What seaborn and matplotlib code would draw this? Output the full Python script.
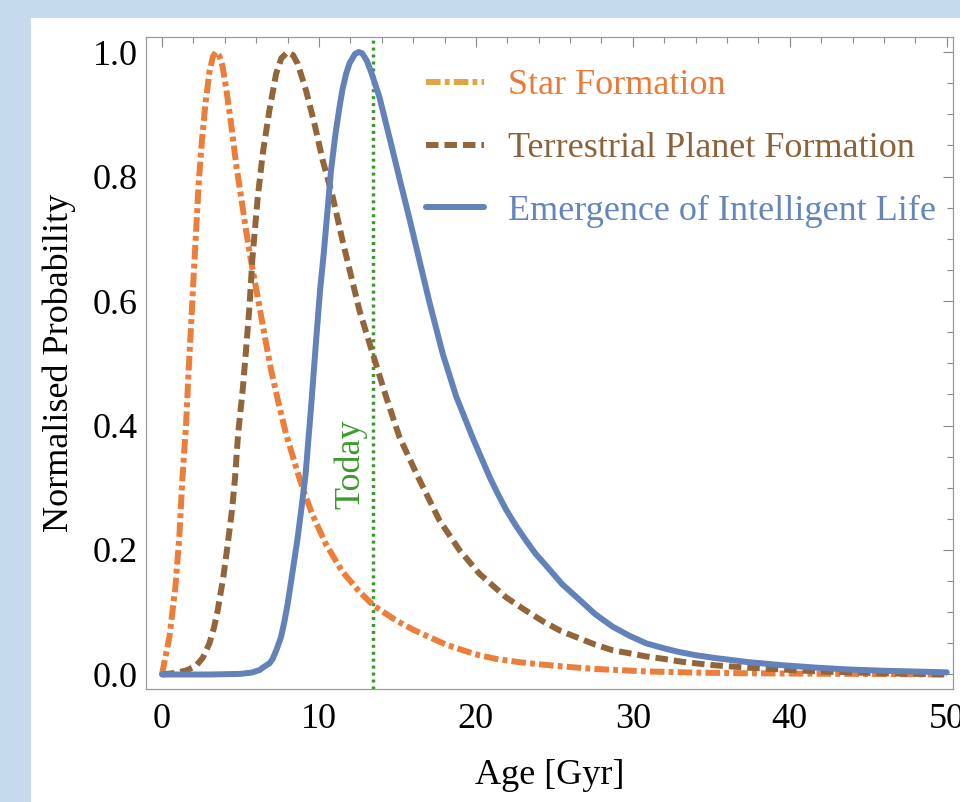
import numpy as np
import pandas as pd
import matplotlib
matplotlib.use("Agg")
import matplotlib.pyplot as plt
from matplotlib.patches import Rectangle
from matplotlib.ticker import MultipleLocator
import seaborn as sns

# values
star_age = [0, 0.47, 0.85, 1.1, 1.3, 1.53, 1.7, 1.85, 2.08, 2.34, 2.55, 2.76, 3.02, 3.25, 3.45,
            3.65, 3.85, 4.08, 4.4, 4.72, 5.04, 5.35, 5.65, 6.1, 6.52, 6.95, 7.48, 7.9, 8.54,
            8.97, 9.6, 10.45, 11.5, 12.58, 13.47, 14.9, 16.0, 17.04, 18.1, 19.16, 20.2, 21.3,
            22.7, 24.2, 26.0, 27.5, 30.8, 34.0, 37.2, 43.5, 50]
star_prob = [0, 0.06, 0.14, 0.22, 0.315, 0.40, 0.49, 0.56, 0.67, 0.79, 0.86, 0.915, 0.968, 0.993, 1.0,
             0.994, 0.978, 0.943, 0.885, 0.82, 0.767, 0.714, 0.668, 0.606, 0.547, 0.489, 0.43, 0.387, 0.333,
             0.298, 0.256, 0.209, 0.165, 0.133, 0.111, 0.087, 0.072, 0.06, 0.048, 0.039, 0.031, 0.025,
             0.02, 0.016, 0.012, 0.009, 0.005, 0.003, 0.002, 0.001, 0.0]

planet_age = [0, 1.0, 1.6, 2.17, 2.6, 3.02, 3.3, 3.55, 3.91, 4.19, 4.46, 4.65, 4.85, 5.14, 5.35, 5.57,
              5.76, 6.1, 6.42, 6.84, 7.27, 7.6, 8.01, 8.35, 8.65, 9.18, 9.71, 10.24, 10.88, 11.52,
              12.58, 13.43, 14.28, 15.12, 16.3, 17.67, 18.95, 20.22, 21.92, 23.1, 24.3, 25.4, 26.6,
              27.6, 28.7, 29.8, 30.85, 32.0, 32.97, 34.0, 35.1, 37.3, 39.5, 41.7, 43.8, 46, 50]
planet_prob = [0, 0.003, 0.007, 0.014, 0.027, 0.05, 0.074, 0.103, 0.157, 0.21, 0.264, 0.315, 0.387, 0.457,
               0.52, 0.59, 0.668, 0.767, 0.837, 0.906, 0.965, 0.99, 1.0, 0.995, 0.981, 0.938, 0.885, 0.826,
               0.767, 0.695, 0.585, 0.515, 0.446, 0.382, 0.318, 0.248, 0.2, 0.162, 0.124, 0.104, 0.085,
               0.07, 0.058, 0.048, 0.039, 0.034, 0.029, 0.025, 0.021, 0.018, 0.015, 0.011, 0.008, 0.005,
               0.0035, 0.002, 0.0]

life_age = [0, 3, 5, 5.7, 6.2, 6.6, 6.85, 7.05, 7.3, 7.58, 7.8, 8.01, 8.33, 8.65, 8.92, 9.15, 9.32,
            9.5, 9.82, 10.07, 10.3, 10.77, 11.05, 11.3, 11.5, 11.73, 11.95, 12.3, 12.54, 12.75,
            13.05, 13.35, 13.85, 14.49, 15.12, 15.76, 16.3, 17.04, 17.89, 18.74, 19.8, 20.86, 21.4,
            21.92, 22.55, 23.2, 23.8, 24.47, 25.5, 26.6, 27.6, 28.7, 29.8, 30.85, 32.0, 32.97, 34.0,
            35.1, 37.3, 39.5, 41.7, 43.8, 46, 50]
life_prob = [0, 0, 0.001, 0.003, 0.007, 0.014, 0.018, 0.025, 0.04, 0.06, 0.085, 0.114, 0.167, 0.221,
             0.274, 0.322, 0.375, 0.43, 0.537, 0.617, 0.675, 0.81, 0.868, 0.91, 0.94, 0.965, 0.982, 0.997,
             1.0, 0.998, 0.986, 0.966, 0.928, 0.863, 0.798, 0.733, 0.676, 0.598, 0.515, 0.447, 0.38,
             0.318, 0.29, 0.265, 0.239, 0.215, 0.194, 0.175, 0.145, 0.12, 0.097, 0.077, 0.062, 0.05,
             0.042, 0.036, 0.031, 0.027, 0.02, 0.015, 0.011, 0.008, 0.006, 0.0035]

today_age = 13.47
x_ticks = [0, 10, 20, 30, 40, 50]
y_ticks = [0.0, 0.2, 0.4, 0.6, 0.8, 1.0]

labels = ['Star Formation', 'Terrestrial Planet Formation', 'Emergence of Intelligent Life']
line_colors = ['#EB7E3B', '#93653A', '#6282B9']
text_colors = ['#E97B3A', '#8E6239', '#6585BD']
star_legend_color = '#E0A445'
green = '#3C9A2C'

sns.set_theme(style="white")
plt.rcParams['font.family'] = ['Liberation Serif', 'DejaVu Serif']
plt.rcParams['lines.scale_dashes'] = False
FS = 26

fig = plt.figure(figsize=(9.6, 8.02), dpi=100)
fig.patch.set_facecolor('#C6DAED')
# white panel behind the plot
fig.patches.append(Rectangle((31 / 960, 0), 1, 1 - 18 / 802, transform=fig.transFigure,
                             facecolor='white', edgecolor='none', zorder=-10))

ax = fig.add_axes([146 / 960, 1 - 689 / 802, (953 - 146) / 960, (689 - 36.7) / 802])
ax.set_zorder(1)
ax.set_facecolor('white')

series = [(star_age, star_prob), (planet_age, planet_prob), (life_age, life_prob)]
dash_styles = [(0, (10.5, 3, 3.5, 3)), (0, (9, 4.3)), 'solid']
for (xs, ys), lab, col, ls in zip(series, labels, line_colors, dash_styles):
    df = pd.DataFrame({'age': xs, 'prob': ys})
    sns.lineplot(data=df, x='age', y='prob', ax=ax, color=col, linewidth=4.3,
                 label=lab, sort=False, errorbar=None)
    line = ax.lines[-1]
    line.set_linestyle(ls)
    line.set_dash_capstyle('butt')
    line.set_dash_joinstyle('round')
    line.set_solid_joinstyle('round')

ax.axvline(today_age, color=green, linewidth=2.5, linestyle=(0, (2.2, 2.8)), zorder=1)
ax.text(12.0, 0.338, 'Today', rotation=90, color=green, fontsize=FS, ha='center', va='center')

ax.set_xlim(-1.02, 50.4)
ax.set_ylim(-0.0233, 1.0246)
ax.set_xticks(x_ticks)
ax.set_yticks(y_ticks)
ax.set_xticklabels([str(t) for t in x_ticks])
ax.set_yticklabels([f'{t:.1f}' for t in y_ticks])
ax.xaxis.set_minor_locator(MultipleLocator(2))
ax.yaxis.set_minor_locator(MultipleLocator(0.05))
ax.tick_params(which='both', direction='in', top=True, right=True, color='#8a8a8a',
               labelcolor='black', labelsize=FS, width=0.8)
ax.tick_params(which='major', length=7.5)
ax.tick_params(which='minor', length=4.5)
ax.tick_params(axis='x', pad=10)
ax.tick_params(axis='y', pad=6)
for sp in ax.spines.values():
    sp.set_color('#9a9a9a')
    sp.set_linewidth(0.9)

ax.set_xlabel('Age [Gyr]', fontsize=FS, color='black', labelpad=17)
ax.set_ylabel('Normalised Probability', fontsize=FS, color='black', labelpad=12)

leg = ax.legend(loc='upper left', bbox_to_anchor=(426 / 960, 1 - 69 / 802),
                bbox_transform=fig.transFigure, frameon=False, fontsize=FS,
                handlelength=1.6, handletextpad=0.66, labelspacing=0.82,
                borderpad=0, borderaxespad=0)
leg.legend_handles[0].set_color(star_legend_color)
for t, c in zip(leg.get_texts(), text_colors):
    t.set_color(c)

fig.savefig('out.png', dpi=100, facecolor=fig.get_facecolor())
